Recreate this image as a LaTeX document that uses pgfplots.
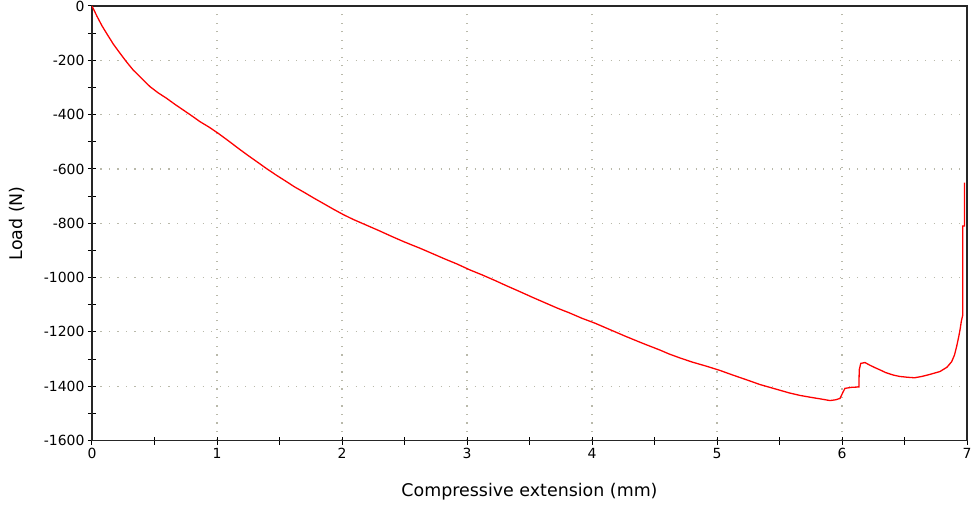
\documentclass[border=0pt]{standalone}
\usepackage{fontspec}
\setmainfont{DejaVu Sans}
\usepackage{pgfplots}
\pgfplotsset{compat=1.18}
\definecolor{gridgray}{RGB}{185,185,170}
\definecolor{curvered}{RGB}{255,0,0}

\begin{document}
\begin{tikzpicture}
\path[use as bounding box] (-92bp,-72.5bp) rectangle (880bp,440.5bp);
\begin{axis}[
    at={(0,0)}, anchor=south west,
    scale only axis,
    width=875bp, height=434.5bp,
    xmin=0, xmax=7, ymin=-1600, ymax=0,
    xtick={0,1,...,7}, ytick={-1600,-1400,...,0},
    minor x tick num=1, minor y tick num=1,
    xtick pos=bottom, ytick pos=left,
    tick align=center,
    major tick length=8bp, minor tick length=8bp,
    every tick/.style={black, line width=1bp},
    axis line style={black!85, line width=1.4bp},
    grid=major,
    major grid style={gridgray, line width=1.2bp, dash pattern=on 1.2bp off 7.3bp},
    tick label style={font=\fontsize{14}{16}\selectfont},
    /pgf/number format/assume math mode=true,
    /pgf/number format/1000 sep={},
    xlabel={Compressive extension (mm)},
    ylabel={Load (N)},
    every axis x label/.style={at={(axis description cs:0.5,-0.130)}, anchor=base,
        font=\fontsize{17.5}{20}\selectfont},
    every axis y label/.style={at={(axis description cs:-0.0857,0.5)}, rotate=90, anchor=center,
        font=\fontsize{17.5}{20}\selectfont},
]
\addplot[curvered, line width=1.3bp] coordinates {
(0,0) (0.04,-38) (0.08,-73) (0.117,-101) (0.17,-140)
(0.224,-174) (0.28,-208) (0.33,-236) (0.40,-268) (0.464,-297)
(0.53,-320) (0.597,-340) (0.66,-361) (0.73,-383) (0.80,-405)
(0.864,-426) (0.94,-447) (1.01,-469) (1.09,-496) (1.17,-524)
(1.25,-551) (1.33,-577) (1.40,-600) (1.478,-624) (1.55,-645)
(1.62,-666) (1.70,-687) (1.77,-706) (1.85,-727) (1.93,-748)
(2.01,-768) (2.09,-786) (2.17,-802) (2.30,-828)
(2.40,-849) (2.50,-869) (2.624,-892) (2.72,-911) (2.82,-931)
(2.92,-950) (3.024,-972) (3.12,-990) (3.22,-1010) (3.32,-1031)
(3.424,-1052) (3.52,-1072) (3.62,-1092) (3.72,-1112) (3.824,-1131)
(3.92,-1150) (4.024,-1168) (4.15,-1193) (4.277,-1218) (4.41,-1243)
(4.544,-1267) (4.62,-1282) (4.704,-1296) (4.80,-1311) (4.92,-1327)
(5.024,-1342) (5.12,-1358) (5.24,-1377) (5.344,-1394) (5.42,-1404)
(5.504,-1415) (5.58,-1425) (5.664,-1434) (5.75,-1441) (5.83,-1447)
(5.904,-1453) (5.95,-1450) (5.984,-1445) (6.01,-1420) (6.024,-1408)
(6.08,-1404) (6.135,-1403) (6.138,-1340) (6.15,-1316) (6.184,-1313)
(6.22,-1322) (6.26,-1331) (6.304,-1340) (6.35,-1350) (6.41,-1359)
(6.46,-1364) (6.52,-1367) (6.58,-1369) (6.64,-1364) (6.70,-1357)
(6.784,-1346) (6.84,-1330) (6.877,-1310) (6.90,-1285) (6.917,-1254)
(6.935,-1215) (6.944,-1193) (6.955,-1160) (6.966,-1138) (6.966,-810)
(6.980,-810) (6.980,-650)
};
\end{axis}
\end{tikzpicture}
\end{document}
